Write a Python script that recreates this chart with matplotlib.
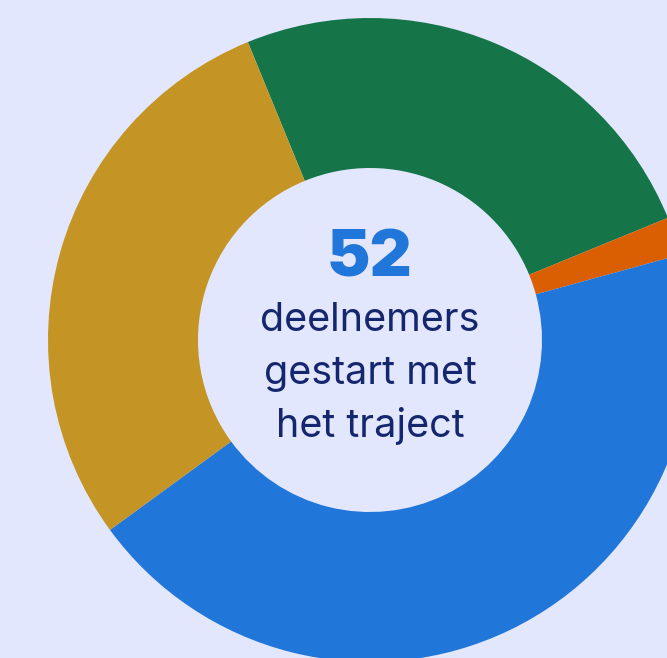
import matplotlib
matplotlib.use("Agg")
import matplotlib.pyplot as plt

labels = ["Groen", "Oranje", "Blauw", "Goud"]
values = [13, 1, 23, 15]
colors = ["#157549", "#D95F02", "#2176D9", "#C49524"]
total_label = "52"
sub_lines = ["deelnemers", "gestart met", "het traject"]

bg = "#E3E7FD"
W, H = 667, 658
cx, cy, R = 370, 340, 322

fig = plt.figure(figsize=(W / 100, H / 100), dpi=100, facecolor=bg)
ax = fig.add_axes([0, 0, 1, 1])
ax.set_facecolor(bg)
ax.pie(values, colors=colors, startangle=112.3, counterclock=False,
       radius=1.0, wedgeprops=dict(width=(322 - 172) / 322, linewidth=0))
ax.set_xlim(-cx / R, (W - cx) / R)
ax.set_ylim(-(H - cy) / R, cy / R)
ax.set_aspect("auto")
ax.axis("off")

def py(p):
    return (cy - p) / R

ax.text(0, py(259), total_label, ha="center", va="center", fontsize=47,
        fontweight="black", family=["Inter", "DejaVu Sans"], color="#2176D9")
for i, line in enumerate(sub_lines):
    ax.text(0, py(331 + i * 53), line, ha="center", va="baseline",
            fontsize=28.5, fontweight="normal", family=["Inter", "DejaVu Sans"],
            color="#14266E")

fig.savefig("out.png", dpi=100, facecolor=bg)
